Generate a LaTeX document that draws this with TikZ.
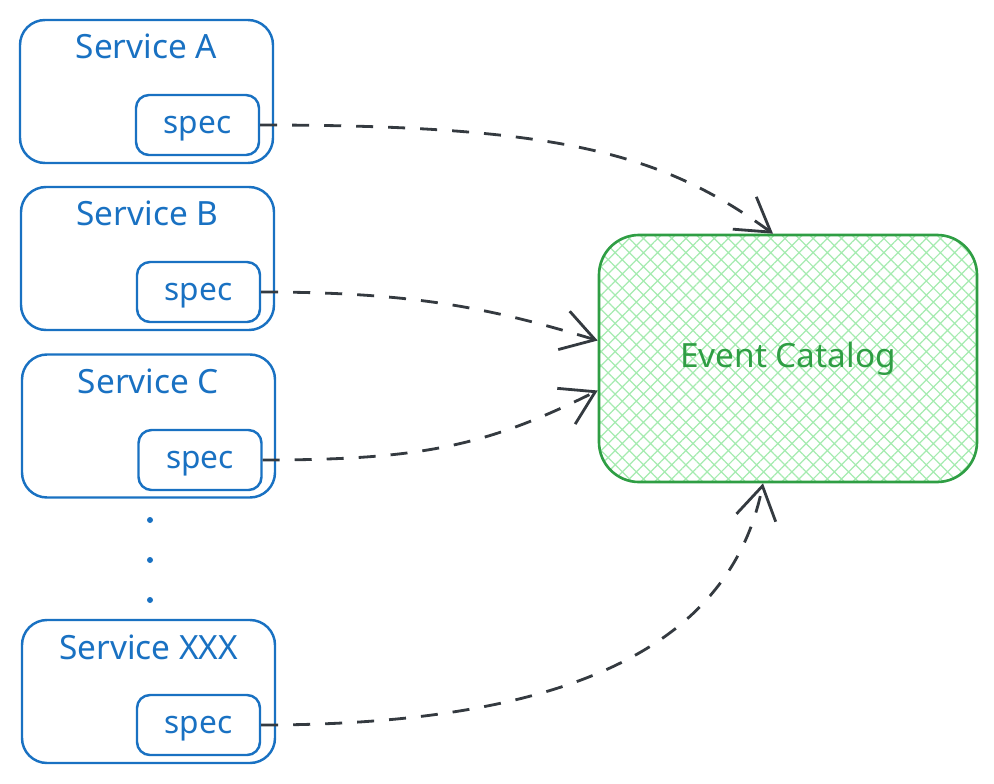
\documentclass[tikz,border=0pt]{standalone}
\usepackage{fontspec}
\setmainfont{Noto Sans}
\usetikzlibrary{arrows.meta,patterns.meta}

\definecolor{svcblue}{HTML}{1971C2}
\definecolor{catgreen}{HTML}{2F9E44}
\definecolor{hatchgreen}{HTML}{A5EBB0}
\definecolor{arrowgray}{HTML}{343A40}

\tikzset{
  service/.style={draw=svcblue, line width=1.4pt, rounded corners=5mm,
    minimum width=50.6mm, minimum height=28.6mm, inner sep=0pt},
  svctitle/.style={text=svcblue, font=\fontsize{19}{23}\selectfont},
  specbox/.style={draw=svcblue, line width=1.4pt, rounded corners=2.6mm,
    minimum width=24.6mm, minimum height=12mm, inner sep=0pt, text depth=0pt,
    text=svcblue, font=\fontsize{18}{22}\selectfont},
  catalog/.style={draw=catgreen, line width=1.5pt, rounded corners=8mm,
    minimum width=75.6mm, minimum height=49.4mm, inner sep=0pt,
    text=catgreen, font=\fontsize{19}{23}\selectfont,
    preaction={pattern={Hatch[angle=45,distance=2mm,line width=0.7pt]},
      pattern color=hatchgreen}},
  feed/.style={draw=arrowgray, line width=1.6pt, dash pattern=on 3.4mm off 3mm,
    -{Straight Barb[length=6.5mm,width=8mm,line width=1.6pt]}}
}

\begin{document}
\begin{tikzpicture}[x=0.2mm,y=-0.2mm]
  \useasboundingbox (0,0) rectangle (994,783);

  \node [service] (a) at (146.5,91.5) {};
  \node [svctitle] (atitle) at ([shift={(0,28)}]a.north) {Service A};
  \node [specbox] (aspec) at (197.5,125) {spec};

  \node [service] (b) at (147.5,258.5) {};
  \node [svctitle] (btitle) at ([shift={(0,28)}]b.north) {Service B};
  \node [specbox] (bspec) at (198.5,292) {spec};

  \node [service] (c) at (148.5,426) {};
  \node [svctitle] (ctitle) at ([shift={(0,28)}]c.north) {Service C};
  \node [specbox] (cspec) at (200,460) {spec};

  \foreach \y in {520,560,600}
    \fill [svcblue] (150,\y) circle (3);

  \node [service] (x) at (148.5,691.5) {};
  \node [svctitle] (xtitle) at ([shift={(0,29)}]x.north) {Service XXX};
  \node [specbox] (xspec) at (198.5,725) {spec};

  \node [catalog] (cat) at (788,358.5) {Event Catalog};

  \draw [feed] (aspec.east) .. controls +(300,0) and +(-110,-80) .. ([shift={(-15,0)}]cat.north);
  \draw [feed] (bspec.east) .. controls +(160,0) and +(-100,-30) .. ([shift={(0,-18)}]cat.west);
  \draw [feed] (cspec.east) .. controls +(160,0) and +(-110,55) .. ([shift={(0,32)}]cat.west);
  \draw [feed] (xspec.east) .. controls +(330,0) and +(-30,150) .. ([shift={(-25,0)}]cat.south);
\end{tikzpicture}
\end{document}
